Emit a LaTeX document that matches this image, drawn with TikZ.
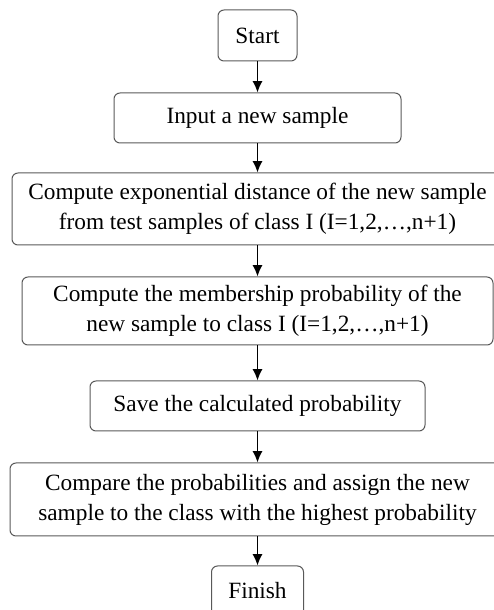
\documentclass[tikz,border=0pt]{standalone}
\usepackage{fontspec}
\setmainfont{Liberation Serif}
\usetikzlibrary{arrows.meta}
\tikzset{
	stepbox/.style={draw=black!65, line width=0.3mm, rounded corners=0.18cm, align=center, inner sep=0pt, font=\fontsize{19.9}{25.6}\selectfont},
	flow/.style={line width=0.4mm, -{Latex[length=0.34cm, width=0.3cm]}}
}

\begin{document}
\begin{tikzpicture}
			%%%%% START %%%%%
			
			\useasboundingbox (0, 0) rectangle (14.82, 18.3);
			
			\node[stepbox, minimum width=2.37cm, minimum height=1.53cm] (start) at (7.725, 17.235) {Start};
			\node[stepbox, minimum width=8.61cm, minimum height=1.5cm] (input) at (7.725, 14.76) {Input a new sample};
			\node[stepbox, minimum width=14.73cm, minimum height=2.16cm] (dist) at (7.725, 12.03) {Compute exponential distance of the new sample\\from test samples of class I (I=1,2,\dots,n+1)};
			\node[stepbox, minimum width=14.13cm, minimum height=2.04cm] (memb) at (7.725, 8.97) {Compute the membership probability of the\\new sample to class I (I=1,2,\dots,n+1)};
			\node[stepbox, minimum width=10.05cm, minimum height=1.5cm] (save) at (7.725, 6.12) {Save the calculated probability};
			\node[stepbox, minimum width=14.85cm, minimum height=2.19cm] (comp) at (7.725, 3.315) {Compare the probabilities and assign the new\\sample to the class with the highest probability};
			\node[stepbox, minimum width=2.76cm, minimum height=1.5cm] (finish) at (7.725, 0.57) {Finish};
			
			\draw[flow] (start) -- (input);
			\draw[flow] (input) -- (dist);
			\draw[flow] (dist) -- (memb);
			\draw[flow] (memb) -- (save);
			\draw[flow] (save) -- (comp);
			\draw[flow] (comp) -- (finish);
			
			%%%%% END %%%%%
		\end{tikzpicture}
\end{document}
